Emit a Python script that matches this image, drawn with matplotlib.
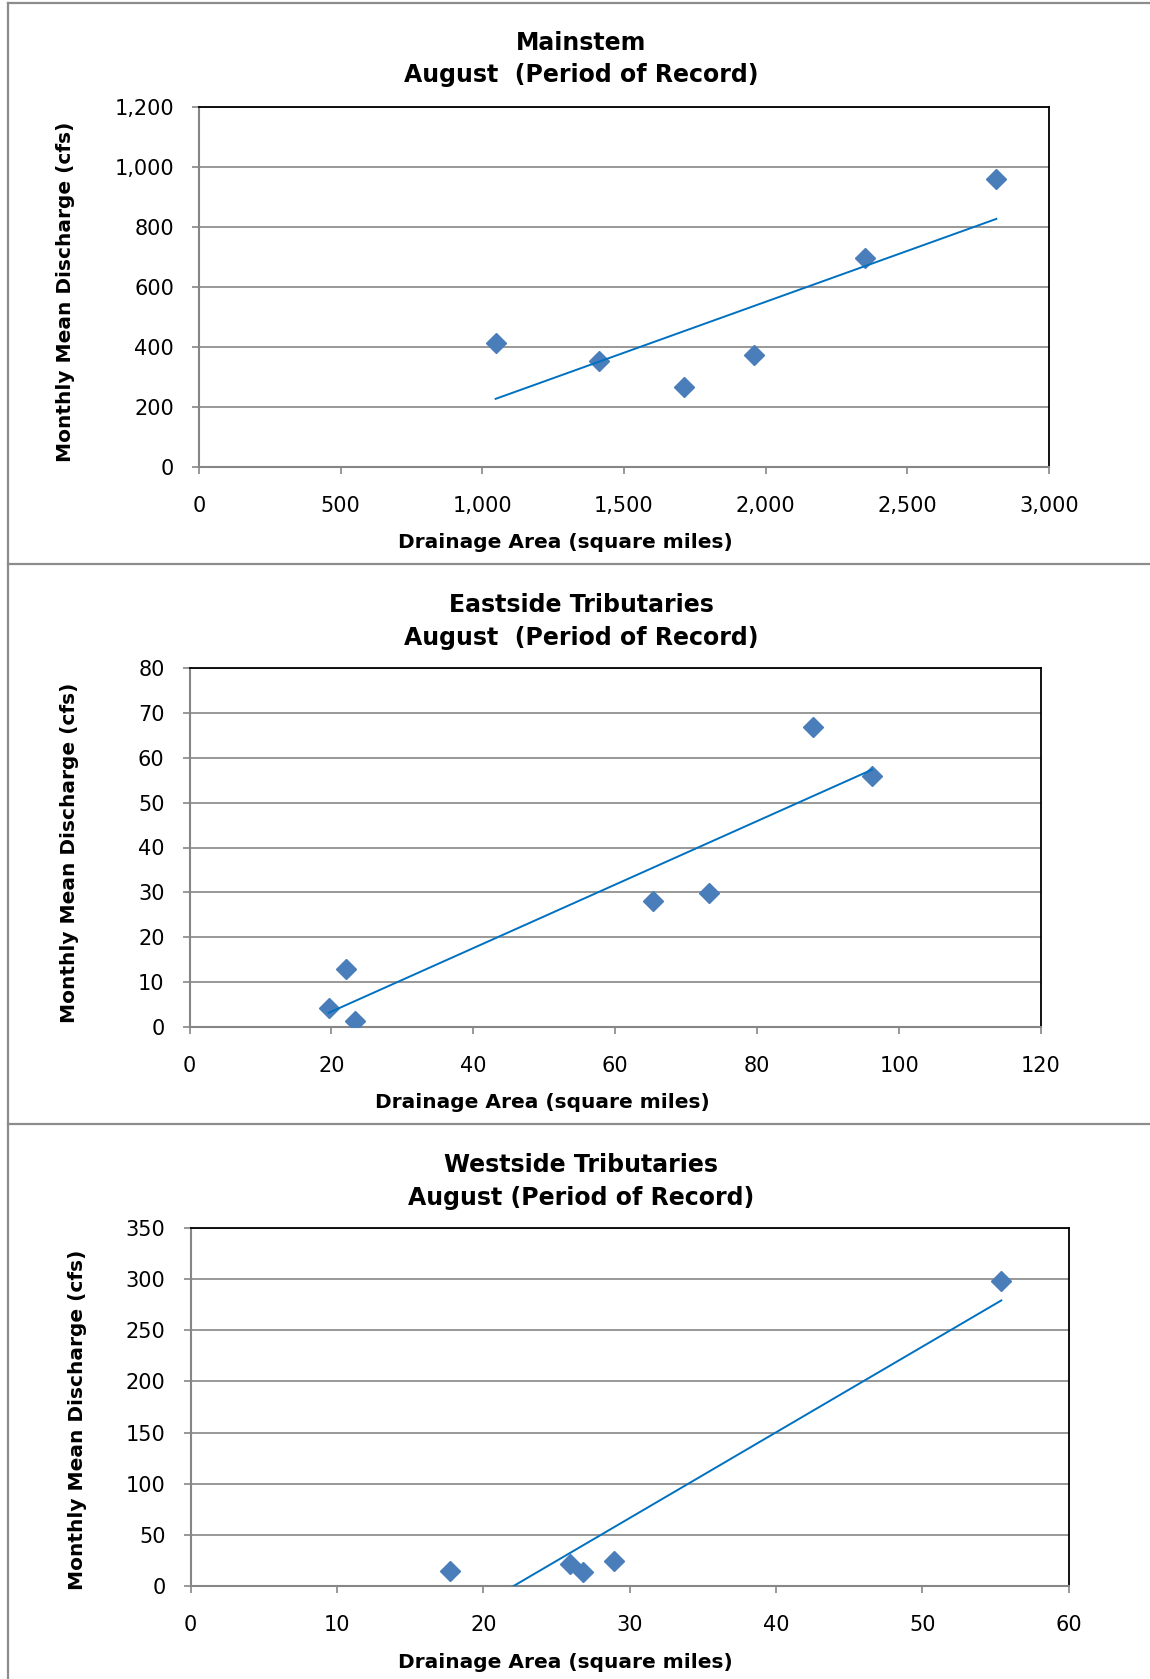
'''
Caudal medio mensual vs. área de drenaje - agosto (periodo de registro)
Tres paneles: Mainstem, Eastside y Westside Tributaries
'''
#---------------------Librerias y modulos requeridos-------------------------
import numpy as np
import matplotlib
matplotlib.use("Agg")
import matplotlib.pyplot as plt
from matplotlib.lines import Line2D
from matplotlib.ticker import StrMethodFormatter

#--------------------------------Datos----------------------------------------
titulos = ["Mainstem", "Eastside Tributaries", "Westside Tributaries"]
subtitulos = ["August  (Period of Record)", "August  (Period of Record)",
              "August (Period of Record)"]
etiqueta_x = "Drainage Area (square miles)"
etiqueta_y = "Monthly Mean Discharge (cfs)"

# área de drenaje (mi²) y caudal (cfs)
mainstem_area = [1047, 1412, 1711, 1960, 2352, 2814]
mainstem_caudal = [414, 353, 267, 372, 698, 961]

eastside_area = [19.6, 22.0, 23.3, 65.3, 73.2, 87.8, 96.2]
eastside_caudal = [4.2, 13.0, 1.3, 28.0, 29.9, 66.8, 55.9]

westside_area = [17.7, 25.9, 26.8, 28.9, 55.4]
westside_caudal = [15.0, 21.2, 13.4, 24.1, 297.7]

# marcas de los ejes
mainstem_xticks = [0, 500, 1000, 1500, 2000, 2500, 3000]
mainstem_yticks = [0, 200, 400, 600, 800, 1000, 1200]
eastside_xticks = [0, 20, 40, 60, 80, 100, 120]
eastside_yticks = [0, 10, 20, 30, 40, 50, 60, 70, 80]
westside_xticks = [0, 10, 20, 30, 40, 50, 60]
westside_yticks = [0, 50, 100, 150, 200, 250, 300, 350]

#--------------------------Sección de estilo----------------------------------
W, H = 1150, 1679
GRIS = "#868686"
AZUL = "#4A7EBB"
TENDENCIA = "#0070C0"
plt.rcParams["font.family"] = ["DejaVu Sans"]

def fx(px):
    return px / W

def fy(py):
    return 1 - py / H

# posiciones en pixeles: (izq, der, arriba, abajo)
cajas = [(199, 1049, 107, 467), (189.5, 1041, 668, 1027), (190.6, 1068.6, 1228, 1586)]
titulo_y = [(50.3, 82.4), (612.4, 644.6), (1172.4, 1204.5)]
xlabel_pos = [(565, 548), (542, 1108), (565, 1668)]
ylabel_pos = [(66, 292), (70, 853), (78, 1420)]

#--------------------------------Figura----------------------------------------
fig = plt.figure(figsize=(W / 100, H / 100), dpi=100)
fig.patch.set_facecolor("white")

# bordes grises de cada gráfico
for y in [3, 564, 1124]:
    fig.add_artist(Line2D([fx(7.5), 1], [fy(y), fy(y)], color="#8C8C8C", lw=1.6))
fig.add_artist(Line2D([fx(7.5), fx(7.5)], [fy(3), 0], color="#8C8C8C", lw=1.6))

paneles = [
    (mainstem_area, mainstem_caudal, mainstem_xticks, mainstem_yticks, True),
    (eastside_area, eastside_caudal, eastside_xticks, eastside_yticks, False),
    (westside_area, westside_caudal, westside_xticks, westside_yticks, False),
]

for i, (xs, ys, xt, yt, comas) in enumerate(paneles):
    l, r, t, b = cajas[i]
    ax = fig.add_axes([fx(l), fy(b), (r - l) / W, (b - t) / H])
    ax.set_xlim(xt[0], xt[-1])
    ax.set_ylim(yt[0], yt[-1])
    ax.set_xticks(xt)
    ax.set_yticks(yt)
    if comas:
        ax.xaxis.set_major_formatter(StrMethodFormatter("{x:,.0f}"))
        ax.yaxis.set_major_formatter(StrMethodFormatter("{x:,.0f}"))
    ax.grid(axis="y", color=GRIS, lw=1.2)
    ax.set_axisbelow(True)
    for lado in ["top", "right"]:
        ax.spines[lado].set_color("black")
        ax.spines[lado].set_linewidth(1.3)
    for lado in ["left", "bottom"]:
        ax.spines[lado].set_color(GRIS)
        ax.spines[lado].set_linewidth(1.5)
    ax.tick_params(axis="both", direction="out", length=5, width=1.2, color=GRIS,
                   labelsize=15, labelcolor="black")
    ax.tick_params(axis="x", pad=16)
    ax.tick_params(axis="y", pad=13)

    # puntos
    ax.plot(xs, ys, linestyle="none", marker="D", markersize=10.5,
            markerfacecolor=AZUL, markeredgecolor=AZUL, zorder=3)
    # línea de tendencia lineal
    m, c = np.polyfit(xs, ys, 1)
    xx = np.array([min(xs), max(xs)])
    ax.plot(xx, m * xx + c, color=TENDENCIA, lw=1.4, zorder=4)

    # textos
    fig.text(fx(581), fy(titulo_y[i][0]), titulos[i], ha="center", va="baseline",
             fontsize=17, fontweight="bold")
    fig.text(fx(581), fy(titulo_y[i][1]), subtitulos[i], ha="center", va="baseline",
             fontsize=17, fontweight="bold")
    fig.text(fx(xlabel_pos[i][0]), fy(xlabel_pos[i][1]), etiqueta_x, ha="center",
             va="baseline", fontsize=14.5, fontweight="bold")
    fig.text(fx(ylabel_pos[i][0]), fy(ylabel_pos[i][1]), etiqueta_y, ha="center",
             va="center", rotation=90, fontsize=14.5, fontweight="bold")

#------------------------------Guardado-------------------------------------
fig.savefig("out.png", dpi=100)
